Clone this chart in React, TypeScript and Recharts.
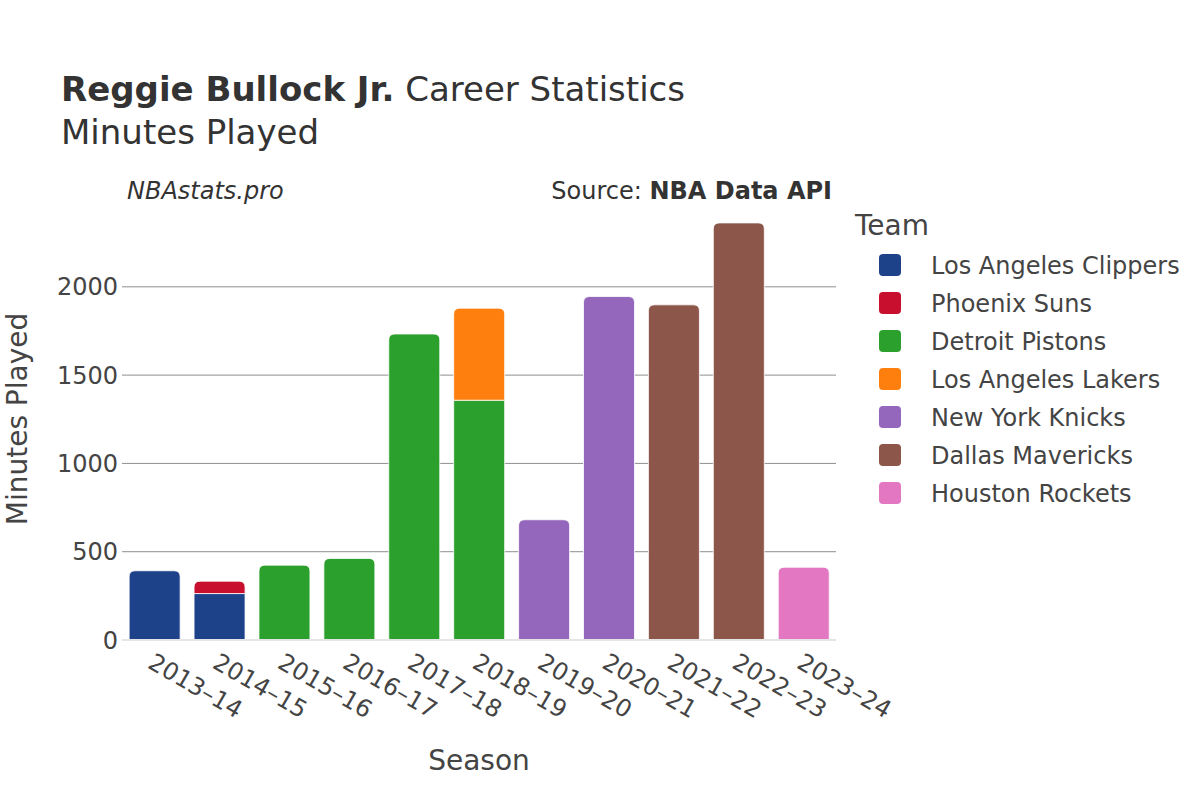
import React from "react";
import { BarChart, Bar, XAxis, YAxis, CartesianGrid, ReferenceLine } from "recharts";

const seasons = ["2013–14", "2014–15", "2015–16", "2016–17", "2017–18", "2018–19", "2019–20", "2020–21", "2021–22", "2022–23", "2023–24"];
const teams = ["Los Angeles Clippers", "Phoenix Suns", "Detroit Pistons", "Los Angeles Lakers", "New York Knicks", "Dallas Mavericks", "Houston Rockets"];
const teamColors = ["#1d428a", "#c8102e", "#2ca02c", "#ff7f0e", "#9467bd", "#8c564b", "#e377c2"];

// minutes per team and season (null = did not play there)
const clippersMin = [392, 263, null, null, null, null, null, null, null, null, null];
const sunsMin = [null, 70, null, null, null, null, null, null, null, null, null];
const pistonsMin = [null, null, 424, 462, 1733, 1358, null, null, null, null, null];
const lakersMin = [null, null, null, null, null, 521, null, null, null, null, null];
const knicksMin = [null, null, null, null, null, null, 681, 1945, null, null, null];
const mavericksMin = [null, null, null, null, null, null, null, null, 1898, 2362, null];
const rocketsMin = [null, null, null, null, null, null, null, null, null, null, 412];

const yTicks = [0, 500, 1000, 1500, 2000];
const yMax = 2486;

const seriesByTeam = [clippersMin, sunsMin, pistonsMin, lakersMin, knicksMin, mavericksMin, rocketsMin];

const rows = seasons.map((season, i) => {
  const row: Record<string, any> = { season };
  teams.forEach((t, k) => {
    row[t] = seriesByTeam[k][i];
  });
  return row;
});

const FONT = "'DejaVu Sans', Verdana, sans-serif";
const TEXT = "#444";
const PLOT_BOTTOM = 640;

const makeShape = (team: string) => (props: any) => {
  const { x, y, width, height, payload, fill } = props;
  if (!height || height <= 0) return null;
  const idx = teams.indexOf(team);
  const isTop = teams.slice(idx + 1).every((t) => !payload[t]);
  const r = isTop ? Math.min(6, height / 2, width / 2) : 0;
  const d = `M${x},${y + height} L${x},${y + r} Q${x},${y} ${x + r},${y} L${x + width - r},${y} Q${x + width},${y} ${x + width},${y + r} L${x + width},${y + height} Z`;
  return <path d={d} fill={fill} stroke="#fff" strokeWidth={0.8} />;
};

const SeasonTick = (props: any) => {
  const { x, payload } = props;
  const tx = x - 8;
  const ty = PLOT_BOTTOM + 27;
  return (
    <text x={tx} y={ty} transform={`rotate(30, ${tx}, ${ty})`} textAnchor="start" fontSize={24} fill={TEXT} fontFamily={FONT}>
      {payload.value}
    </text>
  );
};

// grid only at the tick values (no line at the top of the plot)
const gridRows = ({ yAxis, offset }: any) => {
  const vals = yTicks.filter((v) => v > 0);
  if (yAxis && typeof yAxis.scale === "function") return vals.map((v) => yAxis.scale(v));
  return vals.map((v) => offset.top + offset.height * (1 - v / yMax));
};

export default function App() {
  return (
    <div style={{ position: "absolute", left: 0, top: 0, width: 1200, height: 800, background: "#fff" }}>
      <BarChart
        width={1200}
        height={800}
        data={rows}
        margin={{ top: 201, right: 364, bottom: 130, left: 62 }}
        barCategoryGap="11%"
      >
        <CartesianGrid vertical={false} stroke="#8f8f8f" strokeWidth={1} horizontalCoordinatesGenerator={gridRows} />
        <XAxis dataKey="season" tick={<SeasonTick />} tickLine={false} axisLine={false} interval={0} height={30} />
        <YAxis
          width={60}
          domain={[0, yMax]}
          ticks={yTicks}
          tickLine={false}
          axisLine={false}
          tickSize={0}
          tickMargin={4}
          tick={{ fontSize: 24, fill: TEXT, fontFamily: FONT }}
        />
        {teams.map((t, k) => (
          <Bar key={t} dataKey={t} stackId="a" fill={teamColors[k]} shape={makeShape(t)} isAnimationActive={false} />
        ))}
        <ReferenceLine y={0} stroke="#e5e5e5" strokeWidth={2} />
      </BarChart>

      <svg width={1200} height={800} style={{ position: "absolute", left: 0, top: 0, pointerEvents: "none" }} fontFamily={FONT}>
        <text x={61} y={101} fontSize={34} fill="#333">
          <tspan fontWeight="bold">Reggie Bullock Jr.</tspan>
          <tspan> Career Statistics</tspan>
        </text>
        <text x={61} y={144} fontSize={34} fill="#333">Minutes Played</text>
        <text x={127} y={199} fontSize={24} fill="#333" fontStyle="italic">NBAstats.pro</text>
        <text x={832} y={199} fontSize={24} fill="#333" textAnchor="end">
          <tspan>Source: </tspan>
          <tspan fontWeight="bold">NBA Data API</tspan>
        </text>

        <text x={27} y={419} fontSize={28} fill={TEXT} textAnchor="middle" transform="rotate(-90, 27, 419)">Minutes Played</text>
        <text x={479} y={770} fontSize={28} fill={TEXT} textAnchor="middle">Season</text>

        <text x={855} y={235} fontSize={28} fill={TEXT}>Team</text>
        {teams.map((t, k) => (
          <g key={t}>
            <rect x={879} y={254 + 38 * k} width={22} height={22} rx={4} fill={teamColors[k]} />
            <text x={931} y={274 + 38 * k} fontSize={24} fill={TEXT}>{t}</text>
          </g>
        ))}
      </svg>
    </div>
  );
}
